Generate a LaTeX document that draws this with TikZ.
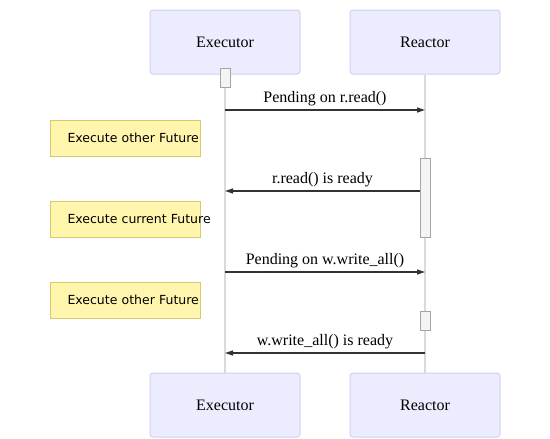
\documentclass[tikz,border=0pt]{standalone}
\usepackage{fontspec}
\setmainfont{Liberation Serif}
\newfontfamily\notefont{DejaVu Sans}
\usetikzlibrary{arrows.meta,positioning}
\definecolor{actorFill}{RGB}{236,236,255}
\definecolor{actorLine}{RGB}{208,208,242}
\definecolor{noteFill}{RGB}{255,245,173}
\definecolor{noteLine}{RGB}{212,202,112}
\definecolor{lifeGray}{RGB}{218,218,218}
\definecolor{actGray}{RGB}{244,244,244}
\definecolor{actLine}{RGB}{165,165,165}
\definecolor{msgDark}{RGB}{51,51,51}

\begin{document}
\begin{tikzpicture}[x=1pt, y=-1pt,
    actor/.style={rectangle, rounded corners=3pt, draw=actorLine, fill=actorFill,
                  minimum width=150pt, minimum height=64pt,
                  font=\fontsize{16}{19}\selectfont, line width=1pt},
    note/.style={rectangle, draw=noteLine, fill=noteFill, line width=1pt,
                 anchor=west, minimum height=36pt, text width=116pt,
                 inner xsep=17pt, align=left,
                 font=\notefont\fontsize{12.5}{15}\selectfont},
    act/.style={rectangle, draw=actLine, fill=actGray, line width=1pt,
                minimum width=10pt, inner sep=0pt},
    life/.style={lifeGray, line width=1.5pt},
    msg/.style={-{Triangle[length=8pt,width=5pt]}, msgDark, line width=1.3pt},
    lbl/.style={above=3pt, inner sep=0pt, text=black,
                font=\fontsize{16}{19}\selectfont}
  ]
  \useasboundingbox (0,0) rectangle (550,439);

  \node[actor] (exTop) at (225,42)  {Executor};
  \node[actor] (reTop) at (425,42)  {Reactor};
  \node[actor] (exBot) at (225,405) {Executor};
  \node[actor] (reBot) at (425,405) {Reactor};

  \draw[life] (exTop) -- (exBot);
  \draw[life] (reTop) -- (reBot);

  \node[act, minimum height=19pt] (exAct)  at (225,77.5)  {};
  \node[act, minimum height=79pt] (reAct1) at (425,197.5) {};
  \node[act, minimum height=19pt] (reAct2) at (425,320.5) {};

  \coordinate (m1s) at (225,110);
  \coordinate (m1e) at (425,110);
  \coordinate (m2s) at (420,191);
  \coordinate (m2e) at (225,191);
  \coordinate (m3s) at (225,272);
  \coordinate (m3e) at (425,272);
  \coordinate (m4s) at (425,353);
  \coordinate (m4e) at (225,353);

  \draw[msg] (m1s) -- node[lbl] {Pending on r.read()} (m1e);
  \draw[msg] (m2s) -- node[lbl] {r.read() is ready} (m2e);
  \draw[msg] (m3s) -- node[lbl] {Pending on w.write\_all()} (m3e);
  \draw[msg] (m4s) -- node[lbl] {w.write\_all() is ready} (m4e);

  \node[note] (note1) at (50,138)   {\mbox{Execute other Future}};
  \node[note] (note2) at (50,219)   {\mbox{Execute current Future}};
  \node[note] (note3) at (50,300)   {\mbox{Execute other Future}};
\end{tikzpicture}
\end{document}
